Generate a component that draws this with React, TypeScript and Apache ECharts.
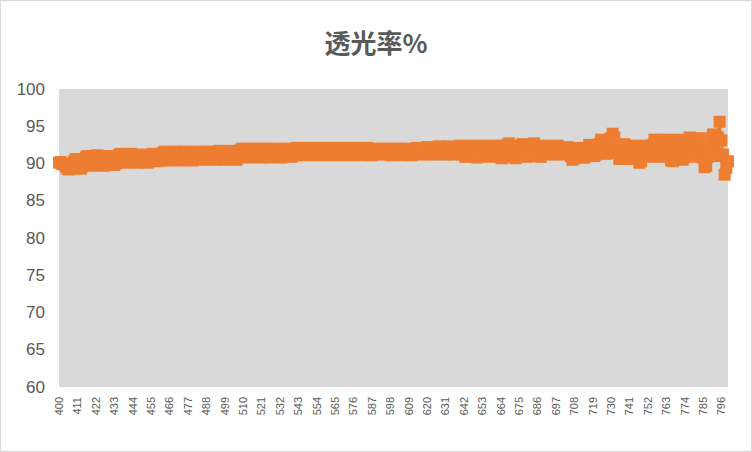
import React, { useEffect, useRef } from "react";
import * as echarts from "echarts";

// wavelength 400..800 nm, one point per nm
const wavelengths: string[] = [];
for (let w = 400; w <= 800; w++) wavelengths.push(String(w));

// transmittance % in rows of ten
const transmittance = [
  90.1, 90.2, 89.9, 90.0, 89.6, 89.3, 89.2, 89.5, 89.8, 90.3,
  90.6, 90.4, 89.7, 89.3, 89.6, 90.2, 90.8, 91.0, 90.5, 89.9,
  89.7, 90.1, 90.6, 91.1, 90.9, 90.3, 89.8, 89.7, 90.2, 90.7,
  91.0, 90.8, 90.2, 89.8, 90.0, 90.6, 91.2, 91.3, 90.9, 90.4,
  90.1, 90.3, 90.8, 91.3, 91.1, 90.6, 90.2, 90.1, 90.5, 91.0,
  91.2, 90.9, 90.4, 90.1, 90.3, 90.9, 91.3, 91.2, 90.7, 90.3,
  90.4, 90.8, 91.4, 91.6, 91.2, 90.7, 90.4, 90.5, 91.0, 91.5,
  91.6, 91.1, 90.6, 90.4, 90.7, 91.2, 91.6, 91.5, 90.9, 90.5,
  90.4, 90.8, 91.3, 91.6, 91.4, 90.9, 90.5, 90.6, 91.1, 91.6,
  91.5, 91.0, 90.6, 90.5, 90.9, 91.4, 91.7, 91.3, 90.8, 90.5,
  90.6, 91.1, 91.6, 91.7, 91.2, 90.7, 90.5, 90.8, 91.4, 91.9,
  92.0, 91.5, 91.0, 90.8, 91.0, 91.6, 92.0, 91.8, 91.2, 90.9,
  90.8, 91.3, 91.8, 92.0, 91.6, 91.1, 90.8, 91.0, 91.5, 92.0,
  91.9, 91.4, 90.9, 90.8, 91.2, 91.7, 92.0, 91.6, 91.1, 90.9,
  91.1, 91.6, 92.1, 91.9, 91.4, 91.1, 91.2, 91.7, 92.1, 91.8,
  91.3, 91.1, 91.3, 91.8, 92.1, 91.7, 91.2, 91.1, 91.4, 91.9,
  92.1, 91.6, 91.2, 91.1, 91.5, 92.0, 92.1, 91.7, 91.2, 91.1,
  91.4, 91.9, 92.1, 91.8, 91.3, 91.1, 91.3, 91.8, 92.1, 91.7,
  91.2, 91.1, 91.5, 92.0, 92.1, 91.6, 91.2, 91.1, 91.4, 91.9,
  92.0, 91.7, 91.3, 91.2, 91.5, 91.9, 92.0, 91.6, 91.2, 91.1,
  91.4, 91.8, 92.0, 91.7, 91.3, 91.1, 91.3, 91.8, 92.0, 91.6,
  91.2, 91.1, 91.5, 91.9, 92.1, 91.8, 91.4, 91.2, 91.3, 91.8,
  92.2, 92.0, 91.5, 91.2, 91.3, 91.7, 92.1, 92.3, 91.9, 91.4,
  91.2, 91.4, 91.9, 92.3, 92.1, 91.6, 91.2, 91.3, 91.8, 92.2,
  92.4, 91.9, 91.3, 90.9, 91.2, 91.8, 92.3, 92.4, 91.8, 91.2,
  90.8, 91.1, 91.7, 92.2, 92.4, 91.9, 91.3, 90.9, 91.0, 91.6,
  92.1, 92.4, 92.0, 91.4, 90.8, 90.7, 91.2, 91.9, 92.5, 92.7,
  92.2, 91.5, 90.9, 90.7, 91.1, 91.8, 92.4, 92.6, 92.1, 91.4,
  90.9, 91.0, 91.6, 92.3, 92.7, 92.4, 91.7, 91.1, 90.9, 91.3,
  91.8, 92.3, 92.4, 91.9, 91.4, 91.2, 91.5, 92.0, 92.4, 92.2,
  91.6, 91.2, 91.3, 91.9, 92.2, 91.7, 91.0, 90.5, 90.7, 91.4,
  92.0, 92.1, 91.5, 90.8, 90.8, 91.3, 92.0, 92.5, 92.3, 91.6,
  91.0, 91.2, 91.8, 92.6, 93.2, 92.8, 92.0, 91.3, 91.4, 92.3,
  93.4, 94.0, 93.5, 92.4, 91.4, 90.6, 90.8, 91.7, 92.6, 92.3,
  91.4, 90.6, 90.9, 91.8, 92.4, 92.0, 91.0, 90.1, 90.3, 91.2,
  92.2, 92.4, 91.6, 90.9, 91.4, 92.5, 93.2, 92.9, 91.9, 91.0,
  90.9, 91.8, 92.8, 93.2, 92.4, 91.3, 90.4, 90.3, 91.3, 92.5,
  93.2, 92.6, 91.4, 90.5, 90.9, 92.0, 93.1, 93.5, 92.6, 91.3,
  90.9, 92.0, 93.2, 93.4, 92.3, 90.8, 89.5, 89.7, 90.9, 92.2,
  93.4, 93.9, 92.6, 91.0, 93.5, 95.6, 93.1, 91.2, 88.5, 89.4,
  90.3,
];

const yTicks = { min: 60, max: 100, step: 5 };

const App = () => {
  const chartRef = useRef<HTMLDivElement>(null);

  useEffect(() => {
    if (!chartRef.current) return;
    const chart = echarts.init(chartRef.current, null, { renderer: "svg" });

    const option = {
      animation: false,
      backgroundColor: "#ffffff",
      title: {
        text: "透光率%",
        left: "center",
        top: 22,
        textStyle: {
          fontFamily: "'Noto Sans CJK SC', sans-serif",
          fontSize: 26,
          fontWeight: "bold",
          color: "#595959",
        },
      },
      grid: {
        left: 58,
        right: 23,
        top: 88,
        bottom: 64,
        show: true,
        backgroundColor: "#d9d9d9",
        borderWidth: 0,
      },
      xAxis: {
        type: "category",
        data: wavelengths,
        boundaryGap: false,
        axisLine: { show: false },
        axisTick: { show: false },
        splitLine: { show: false },
        axisLabel: {
          interval: 10,
          rotate: 90,
          margin: 10,
          fontSize: 11,
          color: "#595959",
          fontFamily: "'Liberation Sans', Arial, sans-serif",
        },
      },
      yAxis: {
        type: "value",
        min: yTicks.min,
        max: yTicks.max,
        interval: yTicks.step,
        axisLine: { show: false },
        axisTick: { show: false },
        splitLine: { show: false },
        axisLabel: {
          margin: 14,
          fontSize: 17,
          color: "#595959",
          fontFamily: "'Liberation Sans', Arial, sans-serif",
        },
      },
      series: [
        {
          name: "透光率%",
          type: "line",
          data: transmittance,
          symbol: "rect",
          symbolSize: 12,
          showAllSymbol: true,
          clip: false,
          color: "#ed7d31",
          lineStyle: { color: "#ed7d31", width: 2.5 },
          itemStyle: { color: "#ed7d31" },
        },
      ],
    };

    chart.setOption(option);
    return () => {
      chart.dispose();
    };
  }, []);

  return (
    <div
      ref={chartRef}
      style={{
        position: "fixed",
        left: 0,
        top: 0,
        width: 752,
        height: 452,
        boxSizing: "border-box",
        border: "1px solid #d9d9d9",
      }}
    />
  );
};

export default App;
